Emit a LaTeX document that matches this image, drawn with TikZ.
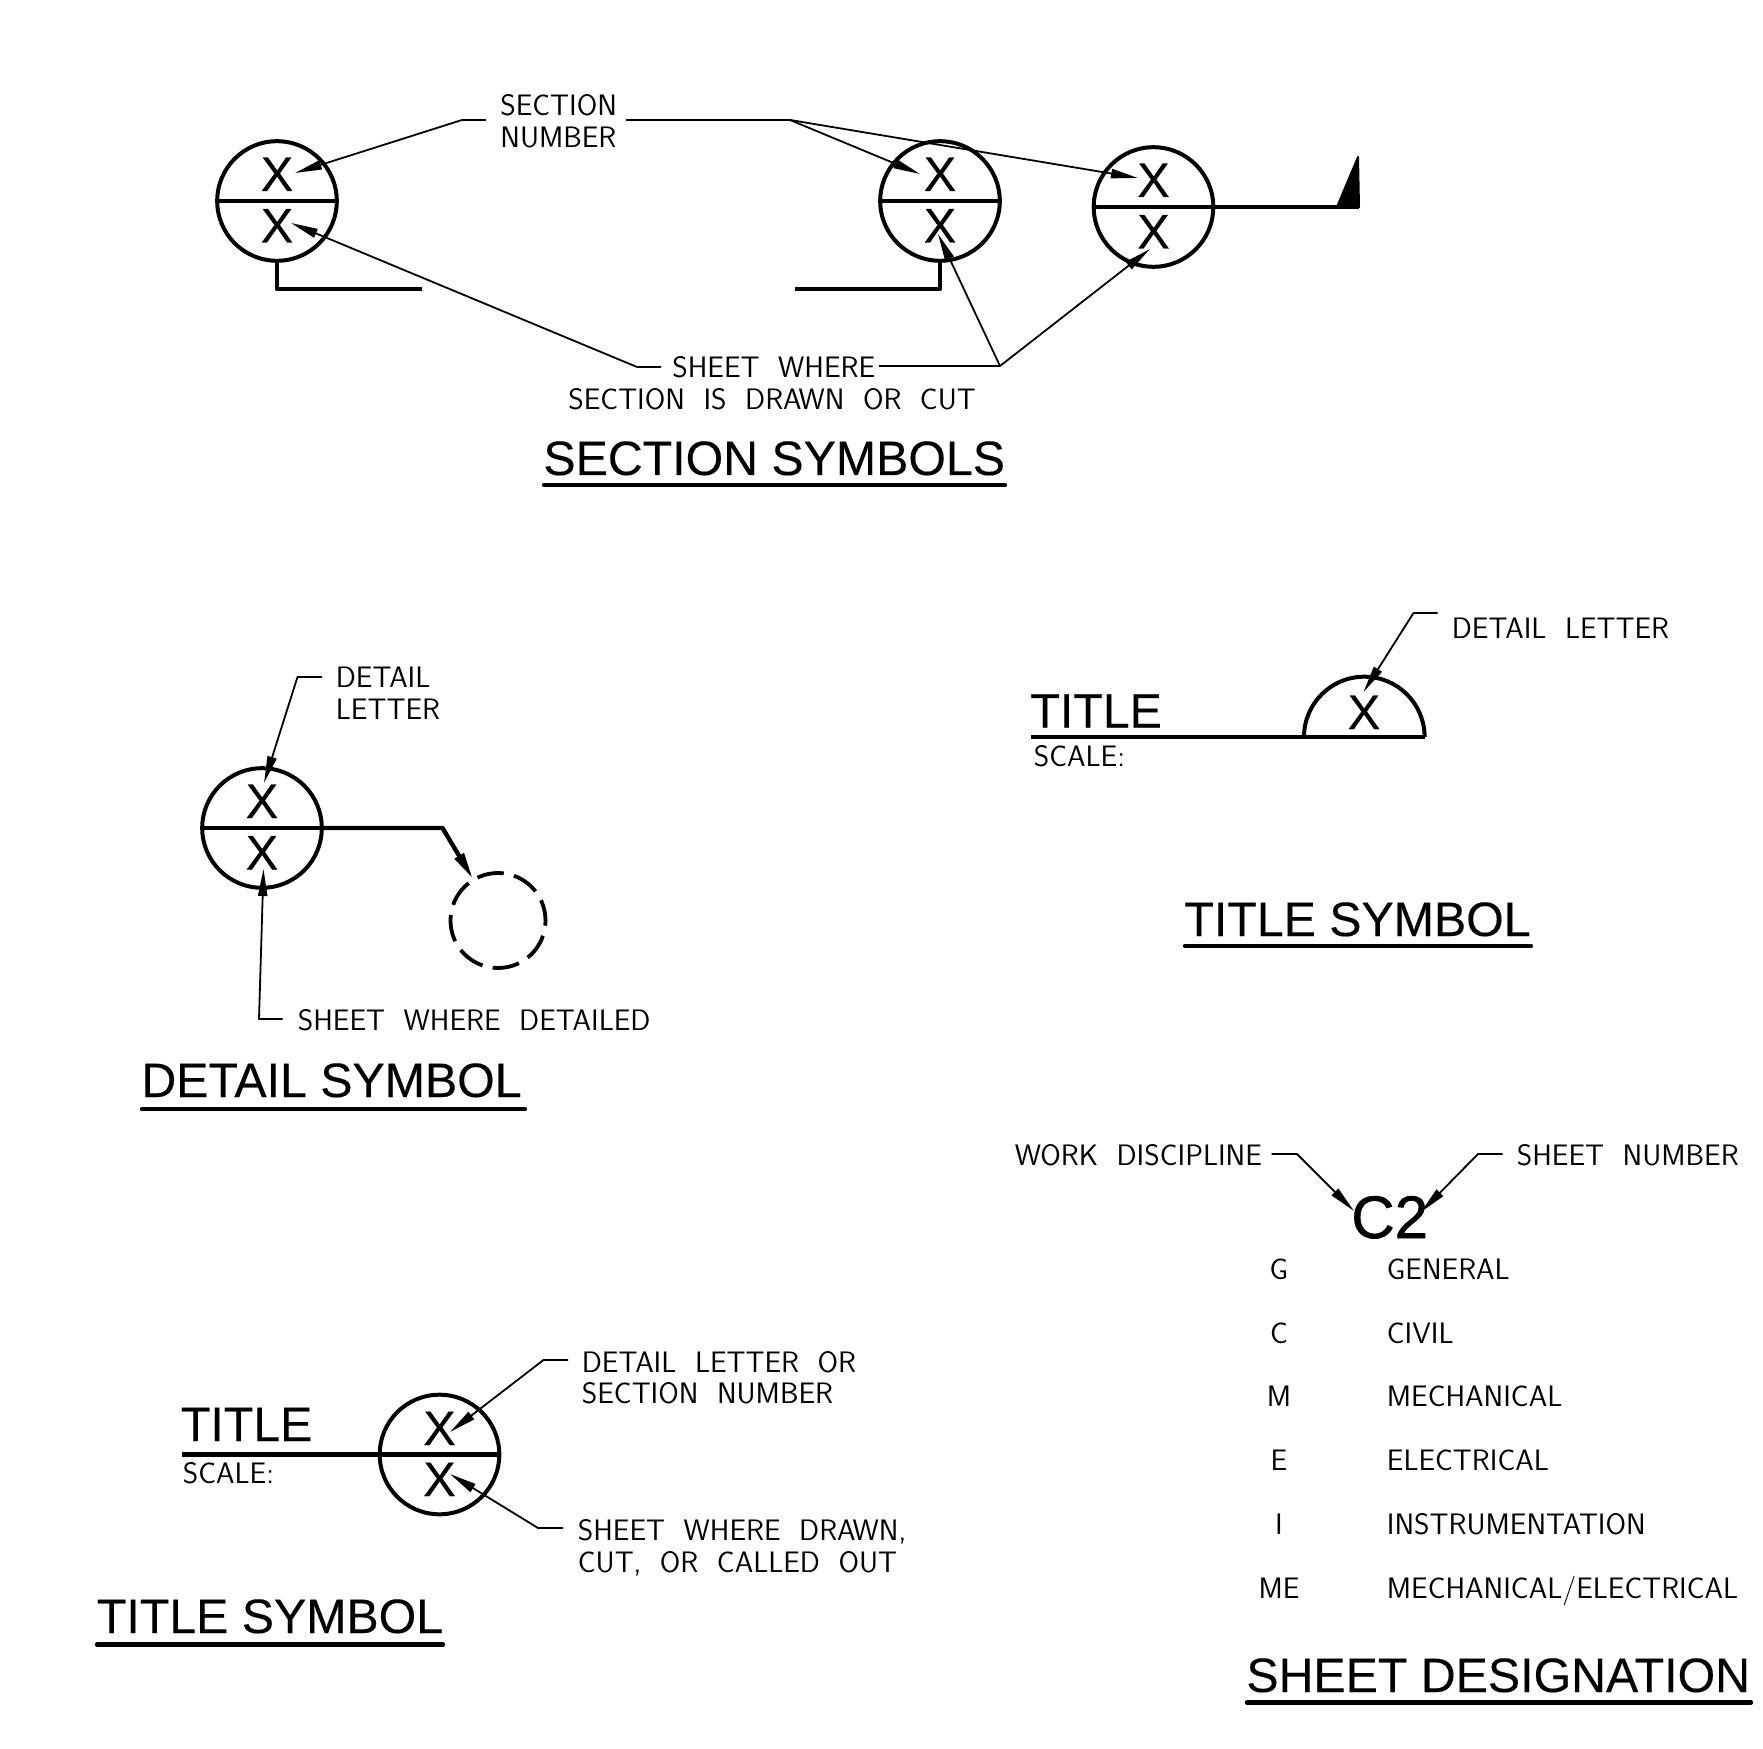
\documentclass[tikz,border=0pt]{standalone}
\usepackage{fontspec}
\usetikzlibrary{arrows.meta}
\setmainfont{Liberation Sans}
\newfontfamily\leaderfont[FakeStretch=1.0,WordSpace=2.0]{Latin Modern Sans}
\newfontfamily\namefont[FakeBold=0.25]{Liberation Sans}
\newfontfamily\codefont[FakeBold=1]{Liberation Sans}
\tikzset{
  bigtext/.style={inner sep=0pt, anchor=base west, font=\namefont\fontsize{24.15pt}{24.15pt}\selectfont},
  letter/.style={inner sep=0pt, anchor=base, yshift=-0.5pt, font=\namefont\fontsize{24.3pt}{24.3pt}\selectfont},
  smalltext/.style={inner sep=0pt, anchor=base west, yshift=-0.5pt, font=\leaderfont\fontsize{14.8pt}{14.8pt}\selectfont},
  symbolcircle/.style={circle, draw, line width=2pt, minimum size=59.8pt, inner sep=0pt, outer sep=0pt},
  heavy/.style={line width=2.2pt},
  under/.style={line width=2.2pt, line cap=round},
  leader/.style={line width=0.9pt, -{Triangle[length=13.5pt,width=4.6pt]}}
}
\begin{document}
\begin{tikzpicture}[x=0.5pt, y=-0.5pt, line join=round]
\useasboundingbox (0,0) rectangle (1763,1749);
% Section symbols
    \node[symbolcircle] (secA) at (277,201) {};
    \node[symbolcircle] (secB) at (940,201) {};
    \node[symbolcircle] (secC) at (1153.5,207) {};
    \draw[heavy] (secA.west) -- (secA.east);
    \draw[heavy] (secB.west) -- (secB.east);
    \node[letter] (secAtop) at (277,190) {X};
    \node[letter] (secAbot) at (277,241.5) {X};
    \node[letter] (secBtop) at (940,190) {X};
    \node[letter] (secBbot) at (940,241.5) {X};
    \node[letter] (secCtop) at (1153.5,196) {X};
    \node[letter] (secCbot) at (1153.5,247.5) {X};
    \coordinate (secAfoot) at (277,289);
    \coordinate (secAend) at (422,289);
    \coordinate (secBfoot) at (940,289);
    \coordinate (secBend) at (795,289);
    \coordinate (flagA) at (1337,207);
    \coordinate (flagB) at (1358,157);
    \coordinate (flagC) at (1359,207);
    \draw[heavy] (secA.south) -- (secAfoot) -- (secAend);
    \draw[heavy] (secB.south) -- (secBfoot) -- (secBend);
    \draw[heavy] (secC.west) -- (flagC);
    \fill[draw, line width=1pt] (flagA) -- (flagB) -- (flagC) -- cycle;
% Section labels
    \node[smalltext] (secnumA) at (500,115) {SECTION};
    \node[smalltext] (secnumB) at (500,147) {NUMBER};
    \node[smalltext] (sheetA) at (672,377) {SHEET WHERE};
    \node[smalltext] (sheetB) at (568,409) {SECTION IS DRAWN OR CUT};
    \node[bigtext] (secname) at (543,475) {SECTION SYMBOLS};
    \coordinate (numLstart) at (486,120);
    \coordinate (numLelbow) at (462,120);
    \coordinate (numLtip) at (295,173);
    \coordinate (numRstart) at (626,120);
    \coordinate (numRelbow) at (790,120);
    \coordinate (numRtipA) at (920,174);
    \coordinate (numRtipB) at (1138,178);
    \coordinate (shtLstart) at (661,367);
    \coordinate (shtLelbow) at (637,367);
    \coordinate (shtLtip) at (291,223);
    \coordinate (shtRstart) at (879,366);
    \coordinate (shtRelbow) at (1000,366);
    \coordinate (shtRtipA) at (938,234);
    \coordinate (shtRtipB) at (1150,249);
    \coordinate (secnameA) at (544,485);
    \coordinate (secnameB) at (1005,485);
    \draw[leader] (numLstart) -- (numLelbow) -- (numLtip);
    \draw[leader] (numRstart) -- (numRelbow) -- (numRtipA);
    \draw[leader] (numRelbow) -- (numRtipB);
    \draw[leader] (shtLstart) -- (shtLelbow) -- (shtLtip);
    \draw[leader] (shtRstart) -- (shtRelbow) -- (shtRtipA);
    \draw[leader] (shtRelbow) -- (shtRtipB);
    \draw[under] (secnameA) -- (secnameB);
% Detail symbol
    \node[symbolcircle] (det) at (262,828) {};
    \node[letter] (dettop) at (262,817) {X};
    \node[letter] (detbot) at (262,868.5) {X};
    \node[circle, draw, line width=1.9pt, dash pattern=on 13.5pt off 5.2pt, dash phase=3pt, minimum size=47.5pt, inner sep=0pt] (dettarget) at (498,920.5) {};
    \coordinate (detbend) at (442.5,828);
    \coordinate (dettip) at (473,879);
    \draw[heavy] (det.west) -- (det.east);
    \draw[heavy, -{Triangle[length=13.5pt,width=5pt]}] (det.east) -- (detbend) -- (dettip);
    \node[smalltext] (detA) at (335.5,687) {DETAIL};
    \node[smalltext] (detB) at (335.5,718) {LETTER};
    \node[smalltext] (detC) at (297.5,1029) {SHEET WHERE DETAILED};
    \node[bigtext] (detname) at (141,1097) {DETAIL SYMBOL};
    \coordinate (letstart) at (322,677);
    \coordinate (letelbow) at (297.5,677);
    \coordinate (lettip) at (264,783);
    \coordinate (whestart) at (282.5,1019);
    \coordinate (wheelbow) at (259,1019);
    \coordinate (whetip) at (263.5,869);
    \coordinate (detnameA) at (142,1109);
    \coordinate (detnameB) at (525,1109);
    \draw[leader] (letstart) -- (letelbow) -- (lettip);
    \draw[leader] (whestart) -- (wheelbow) -- (whetip);
    \draw[under] (detnameA) -- (detnameB);
% Title symbol, half circle
    \coordinate (halfA) at (1031,737);
    \coordinate (halfB) at (1304,737);
    \coordinate (halfC) at (1424.6,737);
    \draw[heavy] (halfA) -- (halfC);
    \draw[line width=2pt] (halfB) arc[start angle=180, end angle=360, radius=60.3];
    \node[letter] (halfX) at (1364,728) {X};
    \node[bigtext] (halftitle) at (1030,727.5) {TITLE};
    \node[smalltext] (halfscale) at (1033.5,765) {SCALE:};
    \node[smalltext] (halflabel) at (1451.5,638) {DETAIL LETTER};
    \node[bigtext] (halfname) at (1184,936) {TITLE SYMBOL};
    \coordinate (halfstart) at (1437.5,613);
    \coordinate (halfelbow) at (1413.5,613);
    \coordinate (halftip) at (1363.5,692);
    \coordinate (halfnameA) at (1185,946);
    \coordinate (halfnameB) at (1531,946);
    \draw[leader] (halfstart) -- (halfelbow) -- (halftip);
    \draw[under] (halfnameA) -- (halfnameB);
% Title symbol, full circle
    \node[symbolcircle] (tit) at (439.5,1454.5) {};
    \node[letter] (tittop) at (439.5,1444) {X};
    \node[letter] (titbot) at (439.5,1495) {X};
    \coordinate (titleft) at (181.5,1454.5);
    \draw[heavy] (titleft) -- (tit.east);
    \node[bigtext] (tittitle) at (180.5,1441) {TITLE};
    \node[smalltext] (titscale) at (182.5,1482) {SCALE:};
    \node[smalltext] (titA) at (581.5,1371) {DETAIL LETTER OR};
    \node[smalltext] (titB) at (581.5,1402) {SECTION NUMBER};
    \node[smalltext] (titC) at (577.5,1539) {SHEET WHERE DRAWN,};
    \node[smalltext] (titD) at (577.5,1571) {CUT, OR CALLED OUT};
    \node[bigtext] (titname) at (96.5,1633) {TITLE SYMBOL};
    \coordinate (upstart) at (568,1360);
    \coordinate (upelbow) at (543.5,1360);
    \coordinate (uptip) at (450,1432);
    \coordinate (lowstart) at (563,1528);
    \coordinate (lowelbow) at (538,1528);
    \coordinate (lowtip) at (450,1474);
    \coordinate (titnameA) at (97,1644.5);
    \coordinate (titnameB) at (443,1644.5);
    \draw[leader] (upstart) -- (upelbow) -- (uptip);
    \draw[leader] (lowstart) -- (lowelbow) -- (lowtip);
    \draw[under] (titnameA) -- (titnameB);
% Sheet designation
    \node[inner sep=0pt, anchor=base west, font=\codefont\fontsize{30pt}{30pt}\selectfont] (code) at (1351,1238) {C2};
    \node[smalltext] (work) at (1014.5,1164) {WORK DISCIPLINE};
    \node[smalltext] (number) at (1516.5,1164) {SHEET NUMBER};
    \coordinate (workstart) at (1271.5,1154);
    \coordinate (workelbow) at (1297,1154);
    \coordinate (worktip) at (1354,1211);
    \coordinate (numstart) at (1502.5,1154);
    \coordinate (numelbow) at (1478,1154);
    \coordinate (numtip) at (1421,1212);
    \draw[leader] (workstart) -- (workelbow) -- (worktip);
    \draw[leader] (numstart) -- (numelbow) -- (numtip);
    \foreach \key/\word/\ypos/\tag in {G/GENERAL/1278/a, C/CIVIL/1342/b, M/MECHANICAL/1405.5/c, E/ELECTRICAL/1469.5/d, I/INSTRUMENTATION/1533.5/e, ME/MECHANICAL\slash ELECTRICAL/1597.5/f} {
        \node[smalltext, anchor=base] (key\tag) at (1279,\ypos) {\key};
        \node[smalltext] (word\tag) at (1386.5,\ypos) {\word};
    }
    \node[bigtext] (shtname) at (1246,1692) {SHEET DESIGNATION};
    \coordinate (shtnameA) at (1247,1702.5);
    \coordinate (shtnameB) at (1751,1702.5);
    \draw[under] (shtnameA) -- (shtnameB);
\end{tikzpicture}
\end{document}
